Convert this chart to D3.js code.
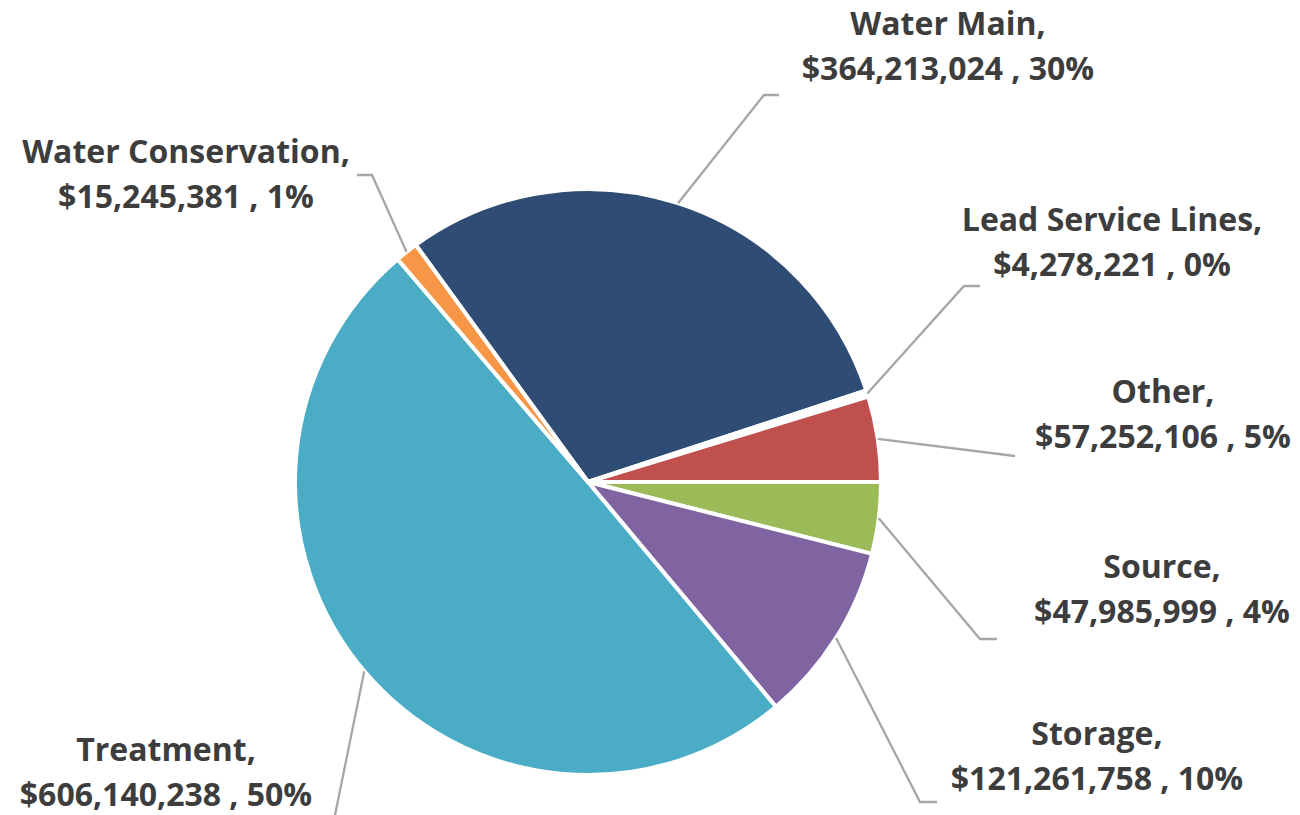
<!DOCTYPE html>
<html>
<head>
<meta charset="utf-8">
<script src="https://cdn.jsdelivr.net/npm/d3@7"></script>
<style>
  body { margin: 0; background: #fff; }
  svg { display: block; }
</style>
</head>
<body>
<svg id="chart"></svg>
<script>
// chart data
const categories = ['Water Main', 'Lead Service Lines', 'Other', 'Source', 'Storage', 'Treatment', 'Water Conservation'];
const amounts = [364213024, 4278221, 57252106, 47985999, 121261758, 606140238, 15245381];
const colors = ['#2E4C74', '#FFFFFF', '#C0504D', '#9BBB59', '#8064A2', '#4BACC6', '#F79646'];

// label layout: text centre x, first line y, leader bend x/y, leader end x
const labelPos = [
  [948, 22, 764, 95, 779],
  [1112, 218, 964, 286, 980],
  [1163, 390, 1015, 456, 1015],
  [1162, 565, 980, 639, 997],
  [1097, 732, 920, 802, 937],
  [166, 748, 332, 830, 332],
  [186, 150, 372, 175, 357]
];

const W = 1300, H = 815;
const cx = 588, cy = 482, R = 293;

const svg = d3.select('#chart').attr('width', W).attr('height', H);
const g = svg.append('g').attr('transform', `translate(${cx},${cy})`);

const total = d3.sum(amounts);
const start = -36 * Math.PI / 180;
const pie = d3.pie().sort(null).startAngle(start).endAngle(start + 2 * Math.PI);
const arcs = pie(amounts);
const arc = d3.arc().innerRadius(0).outerRadius(R);

g.selectAll('path.slice')
  .data(arcs)
  .join('path')
  .attr('class', 'slice')
  .attr('d', arc)
  .attr('fill', (d, i) => colors[i])
  .attr('stroke', '#fff')
  .attr('stroke-width', 4)
  .attr('stroke-linejoin', 'round');

// leader lines from slice edge at mid angle
const lineGen = d3.line();
svg.selectAll('path.leader')
  .data(arcs)
  .join('path')
  .attr('class', 'leader')
  .attr('d', (d, i) => {
    const a = (d.startAngle + d.endAngle) / 2;
    const p0 = [cx + R * Math.sin(a), cy - R * Math.cos(a)];
    const L = labelPos[i];
    return lineGen([p0, [L[2], L[3]], [L[4], L[3]]]);
  })
  .attr('fill', 'none')
  .attr('stroke', '#A6A6A6')
  .attr('stroke-width', 2.3);

const fmtMoney = d3.format('$,');
const labels = svg.selectAll('text.lbl')
  .data(arcs)
  .join('text')
  .attr('class', 'lbl')
  .attr('text-anchor', 'middle')
  .attr('font-family', '"Open Sans", sans-serif')
  .attr('font-weight', 'bold')
  .attr('font-size', 32)
  .attr('fill', '#3D3D3D');

labels.append('tspan')
  .attr('x', (d, i) => labelPos[i][0])
  .attr('y', (d, i) => labelPos[i][1])
  .attr('dominant-baseline', 'central')
  .text((d, i) => categories[i] + ',');

labels.append('tspan')
  .attr('x', (d, i) => labelPos[i][0])
  .attr('y', (d, i) => labelPos[i][1] + 45)
  .attr('dominant-baseline', 'central')
  .text((d, i) => fmtMoney(amounts[i]) + ' , ' + Math.round(amounts[i] / total * 100) + '%');
</script>
</body>
</html>
